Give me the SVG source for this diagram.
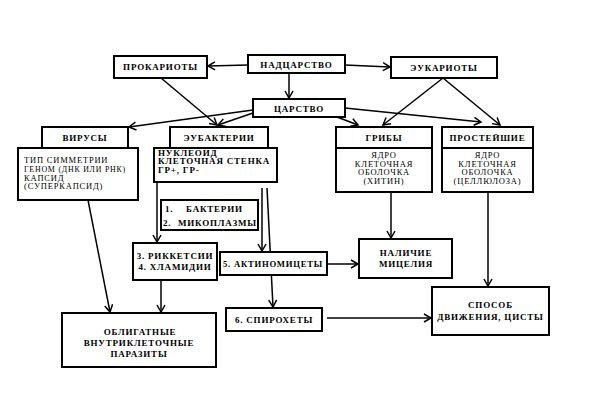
<svg xmlns="http://www.w3.org/2000/svg" width="590" height="419" viewBox="0 0 590 419">
<defs>
<marker id="ah" markerWidth="10" markerHeight="10" refX="8" refY="5" orient="auto" markerUnits="userSpaceOnUse">
<path d="M1,1 L8,5 L1,9" fill="none" stroke="#000" stroke-width="1.5"/>
</marker>
<style>
rect{fill:#fff;stroke:#000;stroke-width:2}
text{font-family:"Liberation Serif","Times New Roman",serif;font-size:9px;font-weight:bold;letter-spacing:0.8px;fill:#000}
.c{text-anchor:middle}
.n{font-weight:normal;font-size:8.5px}
.e line{stroke:#000;stroke-width:1.5;fill:none}
.a{marker-end:url(#ah)}
</style>
</defs>
<rect x="0" y="0" width="590" height="419" style="stroke:none;fill:#fff"/>
<g class="e">
<line class="a" x1="248" y1="65" x2="208" y2="66"/>
<line class="a" x1="345" y1="65" x2="390" y2="67"/>
<line class="a" x1="289" y1="73" x2="289" y2="98"/>
<line class="a" x1="161" y1="78" x2="217" y2="125"/>
<line class="a" x1="443" y1="78" x2="383" y2="125"/>
<line class="a" x1="443" y1="78" x2="500" y2="125"/>
<line class="a" x1="253" y1="110" x2="129" y2="127"/>
<line class="a" x1="253" y1="113" x2="218" y2="125"/>
<line class="a" x1="337" y1="117" x2="358" y2="125"/>
<line class="a" x1="345" y1="108" x2="481" y2="122"/>
<line class="a" x1="88" y1="200" x2="110" y2="312"/>
<line class="a" x1="157" y1="182" x2="157" y2="242"/>
<line class="a" x1="262" y1="188" x2="262" y2="251"/>
<line class="a" x1="267" y1="188" x2="273" y2="307"/>
<line class="a" x1="161" y1="280" x2="161" y2="312"/>
<line class="a" x1="327" y1="264" x2="358" y2="264"/>
<line class="a" x1="391" y1="192" x2="391" y2="238"/>
<line class="a" x1="488" y1="192" x2="488" y2="286"/>
<line class="a" x1="327" y1="318" x2="431" y2="318"/>
</g>
<g id="nadtsarstvo"><rect x="248" y="55" width="97" height="18"/><text class="c" x="296.5" y="68">НАДЦАРСТВО</text></g>
<g id="prokarioty"><rect x="114" y="56" width="93" height="22"/><text class="c" x="160.5" y="70">ПРОКАРИОТЫ</text></g>
<g id="eukarioty"><rect x="391" y="57" width="106" height="21"/><text class="c" x="444" y="70.5">ЭУКАРИОТЫ</text></g>
<g id="tsarstvo"><rect x="253" y="99" width="92" height="18"/><text class="c" x="299" y="111.5">ЦАРСТВО</text></g>
<g id="virusy"><rect x="42" y="127" width="86" height="21"/><text class="c" x="85" y="140.5">ВИРУСЫ</text></g>
<g id="virusy-det"><rect x="18" y="148" width="120" height="52"/>
<text class="n" x="24" y="163">ТИП СИММЕТРИИ</text><text class="n" x="24" y="172" textLength="102" lengthAdjust="spacingAndGlyphs">ГЕНОМ (ДНК ИЛИ РНК)</text><text class="n" x="24" y="180.5">КАПСИД</text><text class="n" x="24" y="189">(СУПЕРКАПСИД)</text></g>
<g id="eubakterii"><rect x="170" y="127" width="98" height="21"/><text class="c" x="219" y="140.5">ЭУБАКТЕРИИ</text></g>
<g id="eubakterii-det"><rect x="154" y="148" width="123" height="34"/>
<text x="158" y="155.5">НУКЛЕОИД</text><text x="158" y="164">КЛЕТОЧНАЯ СТЕНКА</text><text x="158" y="172.5">ГР+, ГР-</text></g>
<g id="griby"><rect x="336" y="127" width="96" height="21"/><text class="c" x="384" y="140.5">ГРИБЫ</text></g>
<g id="griby-det"><rect x="336" y="148" width="96" height="44"/>
<text class="c n" x="384" y="158">ЯДРО</text><text class="c n" x="384" y="166.5">КЛЕТОЧНАЯ</text><text class="c n" x="384" y="175">ОБОЛОЧКА</text><text class="c n" x="384" y="184">(ХИТИН)</text></g>
<g id="prosteishie"><rect x="442" y="127" width="91" height="21"/><text class="c" x="487.5" y="140.5">ПРОСТЕЙШИЕ</text></g>
<g id="prosteishie-det"><rect x="442" y="148" width="91" height="44"/>
<text class="c n" x="487.5" y="158">ЯДРО</text><text class="c n" x="487.5" y="166.5">КЛЕТОЧНАЯ</text><text class="c n" x="487.5" y="175">ОБОЛОЧКА</text><text class="c n" x="487.5" y="184">(ЦЕЛЛЮЛОЗА)</text></g>
<g id="bakterii"><rect x="161" y="200" width="97" height="30"/>
<text x="165" y="211.5">1.</text><text x="186" y="211.5">БАКТЕРИИ</text><text x="163" y="225.5">2.</text><text x="178" y="225.5">МИКОПЛАЗМЫ</text></g>
<g id="rikketsii"><rect x="133" y="243" width="84" height="37"/>
<text class="c" x="175" y="258.5">3. РИККЕТСИИ</text><text class="c" x="175" y="269.5">4. ХЛАМИДИИ</text></g>
<g id="aktinomitsety"><rect x="220" y="252" width="107" height="23"/><text x="223" y="267" textLength="100" lengthAdjust="spacingAndGlyphs">5. АКТИНОМИЦЕТЫ</text></g>
<g id="mitselii"><rect x="359" y="239" width="93" height="39"/>
<text class="c" x="406" y="256">НАЛИЧИЕ</text><text class="c" x="406" y="267">МИЦЕЛИЯ</text></g>
<g id="spirokhety"><rect x="226" y="308" width="96" height="23"/><text class="c" x="274" y="323">6. СПИРОХЕТЫ</text></g>
<g id="sposob"><rect x="432" y="287" width="117" height="48"/>
<text class="c" x="490.5" y="308">СПОСОБ</text><text class="c" x="490.5" y="320">ДВИЖЕНИЯ, ЦИСТЫ</text></g>
<g id="obligatnye"><rect x="62" y="313" width="154" height="54"/>
<text class="c" x="140" y="335">ОБЛИГАТНЫЕ</text><text class="c" x="139" y="346">ВНУТРИКЛЕТОЧНЫЕ</text><text class="c" x="139" y="357">ПАРАЗИТЫ</text></g>
</svg>
